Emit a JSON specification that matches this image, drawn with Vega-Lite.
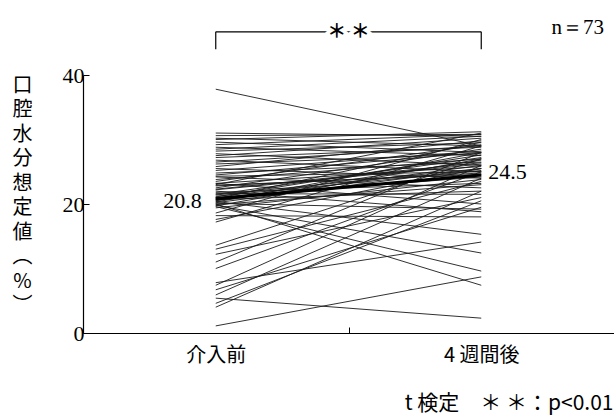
{
  "$schema": "https://vega.github.io/schema/vega-lite/v6.json",
  "width": 531,
  "height": 258,
  "autosize": {"type": "none"},
  "padding": {"left": 83, "top": 75, "right": 0, "bottom": 83},
  "background": "white",
  "config": {"view": {"stroke": null}, "font": "Liberation Serif"},
  "datasets": {
    "subjects": [
      {"id":1,"week":0,"value":1.1},{"id":1,"week":4,"value":8.7},
      {"id":2,"week":0,"value":4.0},{"id":2,"week":4,"value":22.0},
      {"id":3,"week":0,"value":4.6},{"id":3,"week":4,"value":20.5},
      {"id":4,"week":0,"value":5.4},{"id":4,"week":4,"value":2.3},
      {"id":5,"week":0,"value":5.9},{"id":5,"week":4,"value":24.0},
      {"id":6,"week":0,"value":6.7},{"id":6,"week":4,"value":19.5},
      {"id":7,"week":0,"value":7.4},{"id":7,"week":4,"value":26.0},
      {"id":8,"week":0,"value":7.8},{"id":8,"week":4,"value":14.1},
      {"id":9,"week":0,"value":10.0},{"id":9,"week":4,"value":25.0},
      {"id":10,"week":0,"value":11.0},{"id":10,"week":4,"value":28.0},
      {"id":11,"week":0,"value":12.2},{"id":11,"week":4,"value":21.0},
      {"id":12,"week":0,"value":13.0},{"id":12,"week":4,"value":23.5},
      {"id":13,"week":0,"value":13.6},{"id":13,"week":4,"value":27.0},
      {"id":14,"week":0,"value":17.2},{"id":14,"week":4,"value":29.0},
      {"id":15,"week":0,"value":17.6},{"id":15,"week":4,"value":25.5},
      {"id":16,"week":0,"value":18.2},{"id":16,"week":4,"value":18.0},
      {"id":17,"week":0,"value":18.6},{"id":17,"week":4,"value":30.0},
      {"id":18,"week":0,"value":37.8},{"id":18,"week":4,"value":29.0},
      {"id":19,"week":0,"value":22.0},{"id":19,"week":4,"value":18.8},
      {"id":20,"week":0,"value":20.4},{"id":20,"week":4,"value":15.3},
      {"id":21,"week":0,"value":19.8},{"id":21,"week":4,"value":12.4},
      {"id":22,"week":0,"value":19.6},{"id":22,"week":4,"value":9.6},
      {"id":23,"week":0,"value":20.0},{"id":23,"week":4,"value":7.4},
      {"id":24,"week":0,"value":31.0},{"id":24,"week":4,"value":30.5},
      {"id":25,"week":0,"value":30.6},{"id":25,"week":4,"value":30.8},
      {"id":26,"week":0,"value":30.2},{"id":26,"week":4,"value":29.0},
      {"id":27,"week":0,"value":30.0},{"id":27,"week":4,"value":31.2},
      {"id":28,"week":0,"value":29.6},{"id":28,"week":4,"value":28.0},
      {"id":29,"week":0,"value":29.2},{"id":29,"week":4,"value":30.8},
      {"id":30,"week":0,"value":28.8},{"id":30,"week":4,"value":27.5},
      {"id":31,"week":0,"value":28.5},{"id":31,"week":4,"value":30.5},
      {"id":32,"week":0,"value":28.2},{"id":32,"week":4,"value":29.5},
      {"id":33,"week":0,"value":27.8},{"id":33,"week":4,"value":26.0},
      {"id":34,"week":0,"value":27.5},{"id":34,"week":4,"value":30.2},
      {"id":35,"week":0,"value":27.2},{"id":35,"week":4,"value":28.8},
      {"id":36,"week":0,"value":26.8},{"id":36,"week":4,"value":25.0},
      {"id":37,"week":0,"value":26.5},{"id":37,"week":4,"value":29.0},
      {"id":38,"week":0,"value":26.2},{"id":38,"week":4,"value":27.8},
      {"id":39,"week":0,"value":25.8},{"id":39,"week":4,"value":29.8},
      {"id":40,"week":0,"value":25.5},{"id":40,"week":4,"value":24.0},
      {"id":41,"week":0,"value":25.2},{"id":41,"week":4,"value":28.2},
      {"id":42,"week":0,"value":24.8},{"id":42,"week":4,"value":26.5},
      {"id":43,"week":0,"value":24.5},{"id":43,"week":4,"value":28.0},
      {"id":44,"week":0,"value":24.2},{"id":44,"week":4,"value":22.5},
      {"id":45,"week":0,"value":23.8},{"id":45,"week":4,"value":27.0},
      {"id":46,"week":0,"value":23.5},{"id":46,"week":4,"value":29.2},
      {"id":47,"week":0,"value":23.2},{"id":47,"week":4,"value":25.8},
      {"id":48,"week":0,"value":22.8},{"id":48,"week":4,"value":24.8},
      {"id":49,"week":0,"value":22.5},{"id":49,"week":4,"value":28.5},
      {"id":50,"week":0,"value":22.2},{"id":50,"week":4,"value":26.2},
      {"id":51,"week":0,"value":21.8},{"id":51,"week":4,"value":23.2},
      {"id":52,"week":0,"value":21.5},{"id":52,"week":4,"value":27.2},
      {"id":53,"week":0,"value":21.2},{"id":53,"week":4,"value":25.2},
      {"id":54,"week":0,"value":21.0},{"id":54,"week":4,"value":24.2},
      {"id":55,"week":0,"value":20.8},{"id":55,"week":4,"value":29.6},
      {"id":56,"week":0,"value":20.6},{"id":56,"week":4,"value":26.8},
      {"id":57,"week":0,"value":19.4},{"id":57,"week":4,"value":23.8},
      {"id":58,"week":0,"value":21.6},{"id":58,"week":4,"value":21.5},
      {"id":59,"week":0,"value":21.4},{"id":59,"week":4,"value":25.5},
      {"id":60,"week":0,"value":21.1},{"id":60,"week":4,"value":27.6},
      {"id":61,"week":0,"value":20.9},{"id":61,"week":4,"value":24.5},
      {"id":62,"week":0,"value":20.7},{"id":62,"week":4,"value":22.0},
      {"id":63,"week":0,"value":20.5},{"id":63,"week":4,"value":26.0},
      {"id":64,"week":0,"value":20.3},{"id":64,"week":4,"value":28.0},
      {"id":65,"week":0,"value":20.1},{"id":65,"week":4,"value":19.2},
      {"id":66,"week":0,"value":19.9},{"id":66,"week":4,"value":23.0},
      {"id":67,"week":0,"value":19.7},{"id":67,"week":4,"value":27.0},
      {"id":68,"week":0,"value":23.2},{"id":68,"week":4,"value":20.0},
      {"id":69,"week":0,"value":24.3},{"id":69,"week":4,"value":25.0},
      {"id":70,"week":0,"value":23.0},{"id":70,"week":4,"value":31.0},
      {"id":71,"week":0,"value":22.9},{"id":71,"week":4,"value":24.6},
      {"id":72,"week":0,"value":22.3},{"id":72,"week":4,"value":26.4},
      {"id":73,"week":0,"value":20.2},{"id":73,"week":4,"value":25.5}
    ],
    "means": [{"week": 0, "value": 20.8}, {"week": 4, "value": 24.5}],
    "pair": [{"week": 0}, {"week": 4}],
    "one": [{"label": "＊ ＊", "n": "n＝73"}]
  },
  "layer": [
    {
      "data": {"name": "subjects"},
      "mark": {"type": "line", "color": "#1a1a1a", "strokeWidth": 0.9},
      "encoding": {
        "x": {"field": "week", "type": "quantitative",
          "scale": {"domain": [-2, 6], "nice": false, "zero": false},
          "axis": {"values": [0, 2, 4], "grid": false, "domainColor": "black", "domainWidth": 1.2,
            "tickColor": "black", "tickSize": -6,
            "tickOpacity": {"condition": {"test": "datum.value == 2", "value": 1}, "value": 0},
            "labelExpr": "datum.value == 0 ? '介入前' : datum.value == 4 ? '4 週間後' : ''",
            "labelFont": "Noto Sans CJK JP", "labelFontSize": 20, "labelColor": "black", "labelPadding": 18,
            "title": "t 検定　＊ ＊：p<0.01", "titleFont": "Noto Sans CJK JP", "titleFontSize": 21, "titleFontWeight": "normal",
            "titleColor": "black", "titleAnchor": "end", "titleAlign": "right", "titleX": 530, "titleY": 70, "titleBaseline": "middle"}},
        "y": {"field": "value", "type": "quantitative",
          "scale": {"domain": [0, 40], "nice": false},
          "axis": {"values": [0, 20, 40], "grid": false, "domainColor": "black", "domainWidth": 1.2,
            "tickColor": "black", "tickSize": -6, "labelPadding": 5,
            "labelFont": "Liberation Serif", "labelFontSize": 22, "labelColor": "black",
            "title": ["口", "腔", "水", "分", "想", "定", "値", "︵", "%", "︶"],
            "titleFont": "Noto Sans CJK JP", "titleFontSize": 20, "titleFontWeight": "normal", "titleColor": "black",
            "titleAngle": 0, "titleAlign": "center", "titleBaseline": "top", "titleLineHeight": 24.5,
            "titleX": -61, "titleY": 0}},
        "detail": {"field": "id", "type": "nominal"}
      }
    },
    {
      "data": {"name": "means"},
      "mark": {"type": "line", "color": "black", "strokeWidth": 3.2},
      "encoding": {
        "x": {"field": "week", "type": "quantitative"},
        "y": {"field": "value", "type": "quantitative"}
      }
    },
    {
      "data": {"name": "means"},
      "transform": [{"filter": "datum.week == 0"}],
      "mark": {"type": "text", "font": "Liberation Serif", "fontSize": 22, "color": "black", "baseline": "middle", "align": "right", "dx": -14, "dy": 2},
      "encoding": {
        "x": {"field": "week", "type": "quantitative"},
        "y": {"field": "value", "type": "quantitative"},
        "text": {"field": "value", "type": "quantitative", "format": ".1f"}
      }
    },
    {
      "data": {"name": "means"},
      "transform": [{"filter": "datum.week == 4"}],
      "mark": {"type": "text", "font": "Liberation Serif", "fontSize": 22, "color": "black", "baseline": "middle", "align": "left", "dx": 7, "dy": -3},
      "encoding": {
        "x": {"field": "week", "type": "quantitative"},
        "y": {"field": "value", "type": "quantitative"},
        "text": {"field": "value", "type": "quantitative", "format": ".1f"}
      }
    },
    {
      "data": {"name": "pair"},
      "mark": {"type": "rule", "color": "black", "strokeWidth": 1.2},
      "encoding": {
        "x": {"field": "week", "type": "quantitative"},
        "y": {"datum": 44.0},
        "y2": {"datum": 46.7}
      }
    },
    {
      "data": {"name": "one"},
      "mark": {"type": "rule", "color": "black", "strokeWidth": 1.2},
      "encoding": {
        "x": {"datum": 0},
        "x2": {"datum": 4},
        "y": {"datum": 46.7}
      }
    },
    {
      "data": {"name": "one"},
      "mark": {"type": "text", "font": "Noto Sans CJK JP", "fontSize": 19, "fontWeight": "bold", "color": "white", "stroke": "white", "strokeWidth": 7, "baseline": "middle", "align": "center"},
      "encoding": {
        "x": {"datum": 2},
        "y": {"datum": 46.7},
        "text": {"field": "label"}
      }
    },
    {
      "data": {"name": "one"},
      "mark": {"type": "text", "font": "Noto Sans CJK JP", "fontSize": 19, "fontWeight": "bold", "color": "black", "baseline": "middle", "align": "center"},
      "encoding": {
        "x": {"datum": 2},
        "y": {"datum": 46.7},
        "text": {"field": "label"}
      }
    },
    {
      "data": {"name": "one"},
      "mark": {"type": "text", "font": "Liberation Serif", "fontSize": 21, "color": "black", "baseline": "middle", "align": "right", "dx": -10},
      "encoding": {
        "x": {"datum": 6},
        "y": {"datum": 47.3},
        "text": {"field": "n"}
      }
    }
  ]
}
